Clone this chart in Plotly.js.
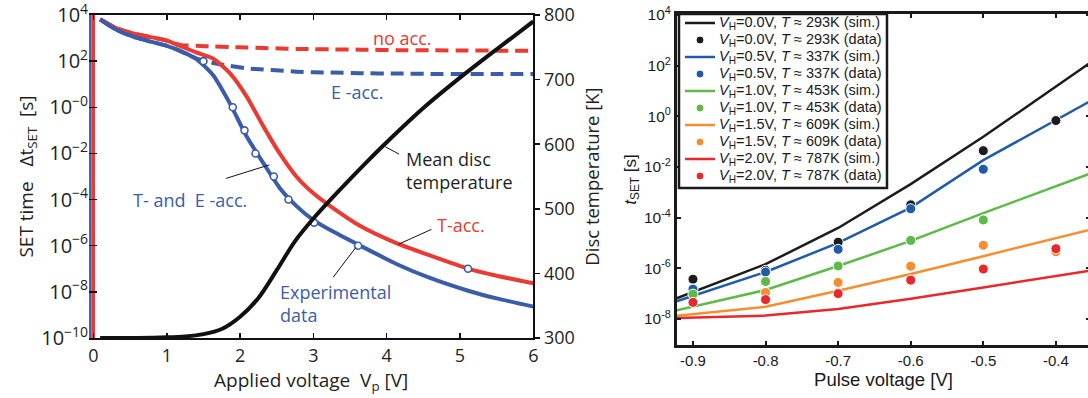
<!DOCTYPE html>
<html>
<head>
<meta charset="utf-8">
<script src="https://cdn.plot.ly/plotly-3.0.1.min.js"></script>
<style>
  html, body { margin: 0; padding: 0; overflow: hidden; background: #fff; }
  #chart { width: 1094px; height: 398px; }
</style>
</head>
<body>
<div id="chart"></div>
<script>
// ---------- Left panel: SET time vs applied voltage ----------
const vGrid  = [0.09, 0.3, 0.54, 0.8, 1.0, 1.18, 1.4, 1.63, 1.86, 2.09, 2.32, 2.54, 2.77, 3.0, 3.23, 3.64, 4.14, 4.59, 5.11, 5.5, 6.0];
const tAcc   = [6.5e3, 2.8e3, 1.6e3, 1.07e3, 7.8e2, 4.6e2, 2.4e2, 1.3e2, 3.0e1, 2.9, 1.45e-1, 1.0e-2, 9.8e-4, 1.86e-4, 5.2e-5, 7.1e-6, 1.26e-6, 3.8e-7, 1.02e-7, 5.0e-8, 2.35e-8];
const teAcc  = [6.5e3, 2.4e3, 1.15e3, 6.8e2, 4.6e2, 2.8e2, 1.26e2, 2.5e1, 1.48, 5.4e-2, 3.7e-3, 3.2e-4, 5.2e-5, 1.29e-5, 4.8e-6, 1.0e-6, 1.58e-7, 4.0e-8, 1.12e-8, 5.2e-9, 2.3e-9];
const eAcc   = [6.5e3, 2.4e3, 1.15e3, 6.8e2, 4.6e2, 2.8e2, 1.32e2, 8.3e1, 6.2e1, 4.9e1, 4.3e1, 3.9e1, 3.5e1, 3.3e1, 3.2e1, 3.0e1, 2.9e1, 2.8e1, 2.8e1, 2.75e1, 2.75e1];
const noAcc  = [6.5e3, 2.8e3, 1.6e3, 1.07e3, 7.8e2, 5.0e2, 4.6e2, 4.3e2, 4.1e2, 3.9e2, 3.7e2, 3.55e2, 3.4e2, 3.3e2, 3.25e2, 3.15e2, 3.0e2, 2.95e2, 2.9e2, 2.85e2, 2.8e2];

const expV   = [1.50, 1.90, 2.06, 2.21, 2.46, 2.66, 3.01, 3.61, 5.11];
const expT   = [1e2, 1e0, 1e-1, 1e-2, 1e-3, 1e-4, 1e-5, 1e-6, 1e-7];

const tempV    = [0.09, 0.6, 1.0, 1.25, 1.5, 1.75, 2.0, 2.25, 2.5, 2.75, 3.0, 3.25, 3.5, 3.75, 4.0, 4.5, 5.0, 5.5, 6.0];
const discTemp = [300, 300, 301, 302.5, 306, 314, 333, 362, 405, 450, 485, 516, 546, 575, 603, 656, 703, 747, 790];

// vertical asymptotes at the start of the voltage sweep
const asymV  = [-0.045, 0];
const tSpan  = [1e-10, 1e4];

const leftTickVals = [1e4, 1e2, 1, 1e-2, 1e-4, 1e-6, 1e-8, 1e-10];
const leftTickText = ['10<sup>4</sup>', '10<sup>2</sup>', '10<sup>−0</sup>', '10<sup>−2</sup>', '10<sup>−4</sup>', '10<sup>−6</sup>', '10<sup>−8</sup>', '10<sup>−10</sup>'];

// ---------- Right panel: t_SET vs pulse voltage ----------
const pulseV   = [-1.0, -0.9, -0.8, -0.7, -0.6, -0.5, -0.4, -0.3];
const simV0_0  = [9.3e-9, 1.15e-7, 1.45e-6, 3.9e-5, 2.1e-3, 1.55e-1, 1.5e1, 1.45e3];
const simV0_5  = [9.3e-9, 8.1e-8, 7.1e-7, 1.0e-5, 2.5e-4, 1.86e-2, 7.1e-1, 2.7e1];
const simV1_0  = [6.8e-9, 3.0e-8, 1.38e-7, 1.23e-6, 1.2e-5, 1.5e-4, 1.74e-3, 2.0e-2];
const simV1_5  = [7.9e-9, 1.58e-8, 3.0e-8, 1.29e-7, 5.9e-7, 3.0e-6, 1.58e-5, 7.9e-5];
const simV2_0  = [9.3e-9, 1.1e-8, 1.35e-8, 2.45e-8, 6.3e-8, 1.74e-7, 5.0e-7, 1.4e-6];

const dataV    = [-0.9, -0.8, -0.7, -0.6, -0.5, -0.4];
const datV0_0  = [3.7e-7, 8.3e-7, 1.07e-5, 3.2e-4, 4.4e-2, 6.8e-1];
const datV0_5  = [1.5e-7, 7.1e-7, 5.6e-6, 2.24e-4, 8.1e-3, null];
const datV1_0  = [9.5e-8, 3.0e-7, 1.23e-6, 1.26e-5, 8.1e-5, null];
const datV1_5  = [null, 1.1e-7, 2.75e-7, 1.2e-6, 8.1e-6, 4.5e-6];
const datV2_0  = [4.5e-8, 5.8e-8, 1.0e-7, 3.4e-7, 9.3e-7, 5.9e-6];

const heaterV  = ['0.0', '0.5', '1.0', '1.5', '2.0'];
const discK    = [293, 337, 453, 609, 787];
const seriesColors = ['#1c1c1c', '#1f5ba8', '#5dba47', '#f68e2f', '#e8282b'];

const pulseTickVals = [-0.9, -0.8, -0.7, -0.6, -0.5, -0.4];
const pulseTickText = ['-0.9', '-0.8', '-0.7', '-0.6', '-0.5', '-0.4'];
const rightTickVals = [1e4, 1e2, 1, 1e-2, 1e-4, 1e-6, 1e-8];
const rightTickText = ['10<sup>4</sup>', '10<sup>2</sup>', '10<sup>0</sup>', '10<sup>-2</sup>', '10<sup>-4</sup>', '10<sup>-6</sup>', '10<sup>-8</sup>'];

// ---------- geometry helpers (page pixels -> paper fractions) ----------
const W = 1094, H = 398;
const px = x => x / W;
const py = y => (H - y) / H;

const RED = '#ea3a31', BLUE = '#3a5dab', INK = '#231f20';
const leftFont = 'Open Sans, Noto Sans, sans-serif';
const rightFont = 'Liberation Sans, Arial, sans-serif';

const traces = [];

// left panel curves
traces.push({ x: [asymV[0], asymV[0]], y: tSpan, mode: 'lines', line: { color: BLUE, width: 3 }, xaxis: 'x', yaxis: 'y', hoverinfo: 'skip' });
traces.push({ x: [asymV[1], asymV[1]], y: tSpan, mode: 'lines', line: { color: RED, width: 3 }, xaxis: 'x', yaxis: 'y', hoverinfo: 'skip' });
traces.push({ x: vGrid, y: noAcc, mode: 'lines', name: 'no acc.', line: { color: RED, width: 4, dash: '13px,7px', shape: 'spline', smoothing: 0.6 }, xaxis: 'x', yaxis: 'y' });
traces.push({ x: vGrid, y: eAcc, mode: 'lines', name: 'E-acc.', line: { color: BLUE, width: 4, dash: '13px,7px', shape: 'spline', smoothing: 0.6 }, xaxis: 'x', yaxis: 'y' });
traces.push({ x: vGrid, y: tAcc, mode: 'lines', name: 'T-acc.', line: { color: RED, width: 4, shape: 'spline', smoothing: 0.6 }, xaxis: 'x', yaxis: 'y' });
traces.push({ x: vGrid, y: teAcc, mode: 'lines', name: 'T- and E-acc.', line: { color: BLUE, width: 4, shape: 'spline', smoothing: 0.6 }, xaxis: 'x', yaxis: 'y' });
traces.push({ x: tempV, y: discTemp, mode: 'lines', name: 'Mean disc temperature', line: { color: '#111', width: 4, shape: 'spline', smoothing: 0.9 }, xaxis: 'x', yaxis: 'y2' });
traces.push({ x: expV, y: expT, mode: 'markers', name: 'Experimental data', marker: { symbol: 'circle', size: 7, color: '#fff', line: { color: BLUE, width: 1.6 } }, xaxis: 'x', yaxis: 'y', cliponaxis: false });

// right panel simulated lines, then measured points on top
const sims = [simV0_0, simV0_5, simV1_0, simV1_5, simV2_0];
const dats = [datV0_0, datV0_5, datV1_0, datV1_5, datV2_0];
sims.forEach((s, i) => traces.push({ x: pulseV, y: s, mode: 'lines', line: { color: seriesColors[i], width: 2.5 }, xaxis: 'x2', yaxis: 'y3' }));
dats.forEach((d, i) => traces.push({ x: dataV, y: d, mode: 'markers', marker: { size: 10, color: seriesColors[i], line: { color: '#fff', width: 1 } }, xaxis: 'x2', yaxis: 'y3', cliponaxis: false }));

// ---------- annotations on the left panel (log10 positions on the y axis) ----------
const annotations = [
  { text: 'no acc.', x: 4.21, y: 3.0, font: { color: RED, size: 18, family: leftFont } },
  { text: 'E -acc.', x: 3.6, y: 0.66, font: { color: BLUE, size: 18, family: leftFont } },
  { text: 'Mean disc<br>temperature', x: 4.24, y: -2.76, xanchor: 'left', align: 'left', font: { color: INK, size: 18, family: leftFont } },
  { text: 'T- and  E -acc.', x: 1.32, y: -4.02, font: { color: BLUE, size: 18, family: leftFont } },
  { text: 'T-acc.', x: 5.02, y: -5.1, font: { color: RED, size: 18, family: leftFont } },
  { text: 'Experimental<br>data', x: 2.52, y: -8.5, xanchor: 'left', align: 'left', font: { color: BLUE, size: 18, family: leftFont } }
].map(a => Object.assign({ xref: 'x', yref: 'y', showarrow: false, xanchor: 'center', yanchor: 'middle' }, a));

// leader lines from labels to curves (shape positions are in data units)
const leaders = [
  [1.81, 8.3e-4, 2.40, 3.2e-3],
  [3.98, 1.95e-2, 4.17, 9.3e-3],
  [4.16, 1.15e-6, 4.61, 5.1e-6],
  [3.27, 4.3e-8, 3.58, 8.5e-7]
];
const shapes = leaders.map(([x0, y0, x1, y1]) => ({ type: 'line', xref: 'x', yref: 'y', x0, y0, x1, y1, line: { color: '#111', width: 1 } }));

// ---------- legend of the right panel ----------
const legTop = 23, legStep = 17;
shapes.push({ type: 'rect', xref: 'paper', yref: 'paper', x0: px(679), x1: px(887), y0: py(188), y1: py(14), fillcolor: '#fff', line: { color: '#1a1a1a', width: 2.5 }, layer: 'above' });
heaterV.forEach((hv, i) => {
  const c = seriesColors[i];
  const ySim = legTop + legStep * (2 * i);
  const yDat = legTop + legStep * (2 * i + 1);
  shapes.push({ type: 'line', xref: 'paper', yref: 'paper', x0: px(685), x1: px(715), y0: py(ySim), y1: py(ySim), line: { color: c, width: 2.5 }, layer: 'above' });
  shapes.push({ type: 'circle', xref: 'paper', yref: 'paper', xsizemode: 'pixel', ysizemode: 'pixel', xanchor: px(700), yanchor: py(yDat), x0: -4, x1: 4, y0: -4, y1: 4, fillcolor: c, line: { color: '#fff', width: 1 }, layer: 'above' });
  ['sim.', 'data'].forEach((kind, k) => {
    annotations.push({
      xref: 'paper', yref: 'paper', x: px(717), y: py(k ? yDat : ySim), xanchor: 'left', yanchor: 'middle', showarrow: false,
      text: `<i>V</i><sub>H</sub>=${hv}V, <i>T</i> ≈ ${discK[i]}K (${kind})`,
      font: { family: rightFont, size: 14.5, color: '#1a1a1a' }
    });
  });
});

const layout = {
  width: W, height: H,
  margin: { l: 0, r: 0, t: 0, b: 0 },
  paper_bgcolor: '#fff', plot_bgcolor: 'rgba(0,0,0,0)',
  showlegend: false,
  xaxis: {
    domain: [px(89.1), px(533.3)], anchor: 'y', range: [-0.06, 6],
    tickvals: [0, 1, 2, 3, 4, 5, 6], ticks: 'inside', ticklen: 5, tickwidth: 1.5, tickcolor: '#111',
    showline: true, linewidth: 2, linecolor: '#111', mirror: 'ticks', showgrid: false, zeroline: false,
    tickfont: { family: leftFont, size: 18, color: INK },
    title: { text: 'Applied voltage  V<sub>p</sub> [V]', font: { family: leftFont, size: 19, color: INK }, standoff: 5 }
  },
  yaxis: {
    domain: [py(338), py(15)], anchor: 'x', type: 'log', range: [-10, 4],
    tickvals: leftTickVals, ticktext: leftTickText, ticks: 'inside', ticklen: 8, tickwidth: 1.5, tickcolor: '#111',
    showline: false, showgrid: false, zeroline: false, ticklabeloverflow: 'allow',
    tickfont: { family: leftFont, size: 20, color: INK },
    title: { text: 'SET time   Δt<sub>SET</sub>  [s]', font: { family: leftFont, size: 19, color: INK }, standoff: 2 }
  },
  yaxis2: {
    overlaying: 'y', side: 'right', anchor: 'x', range: [300, 800],
    tickvals: [300, 400, 500, 600, 700, 800], ticks: 'outside', ticklen: 5, tickwidth: 1.5, tickcolor: '#111',
    showline: true, linewidth: 2, linecolor: '#111', showgrid: false, zeroline: false, ticklabeloverflow: 'allow',
    tickfont: { family: leftFont, size: 18, color: INK },
    title: { text: 'Disc temperature [K]', font: { family: leftFont, size: 18.5, color: INK }, standoff: 12 }
  },
  xaxis2: {
    domain: [px(677), px(1090)], anchor: 'y3', range: [-0.922, -0.353],
    tickvals: pulseTickVals, ticktext: pulseTickText, ticks: 'inside', ticklen: 4, tickwidth: 2, tickcolor: '#1a1a1a',
    showline: true, linewidth: 3, linecolor: '#1a1a1a', mirror: 'ticks', showgrid: false, zeroline: false,
    tickfont: { family: rightFont, size: 15, color: '#1a1a1a' },
    title: { text: 'Pulse voltage [V]', font: { family: rightFont, size: 18.5, color: '#1a1a1a' }, standoff: 4 }
  },
  yaxis3: {
    domain: [py(345), py(14)], anchor: 'x2', type: 'log', range: [-9.03, 4.04],
    tickvals: rightTickVals, ticktext: rightTickText, ticks: 'inside', ticklen: 4, tickwidth: 2, tickcolor: '#1a1a1a',
    showline: true, linewidth: 3, linecolor: '#1a1a1a', mirror: 'ticks', showgrid: false, zeroline: false, ticklabeloverflow: 'allow',
    tickfont: { family: rightFont, size: 15.5, color: '#1a1a1a' },
    title: { text: '<i>t</i><sub>SET</sub> [s]', font: { family: rightFont, size: 17, color: '#1a1a1a' }, standoff: 4 }
  },
  annotations, shapes
};

Plotly.newPlot('chart', traces, layout, { staticPlot: true, displayModeBar: false });
</script>
</body>
</html>
